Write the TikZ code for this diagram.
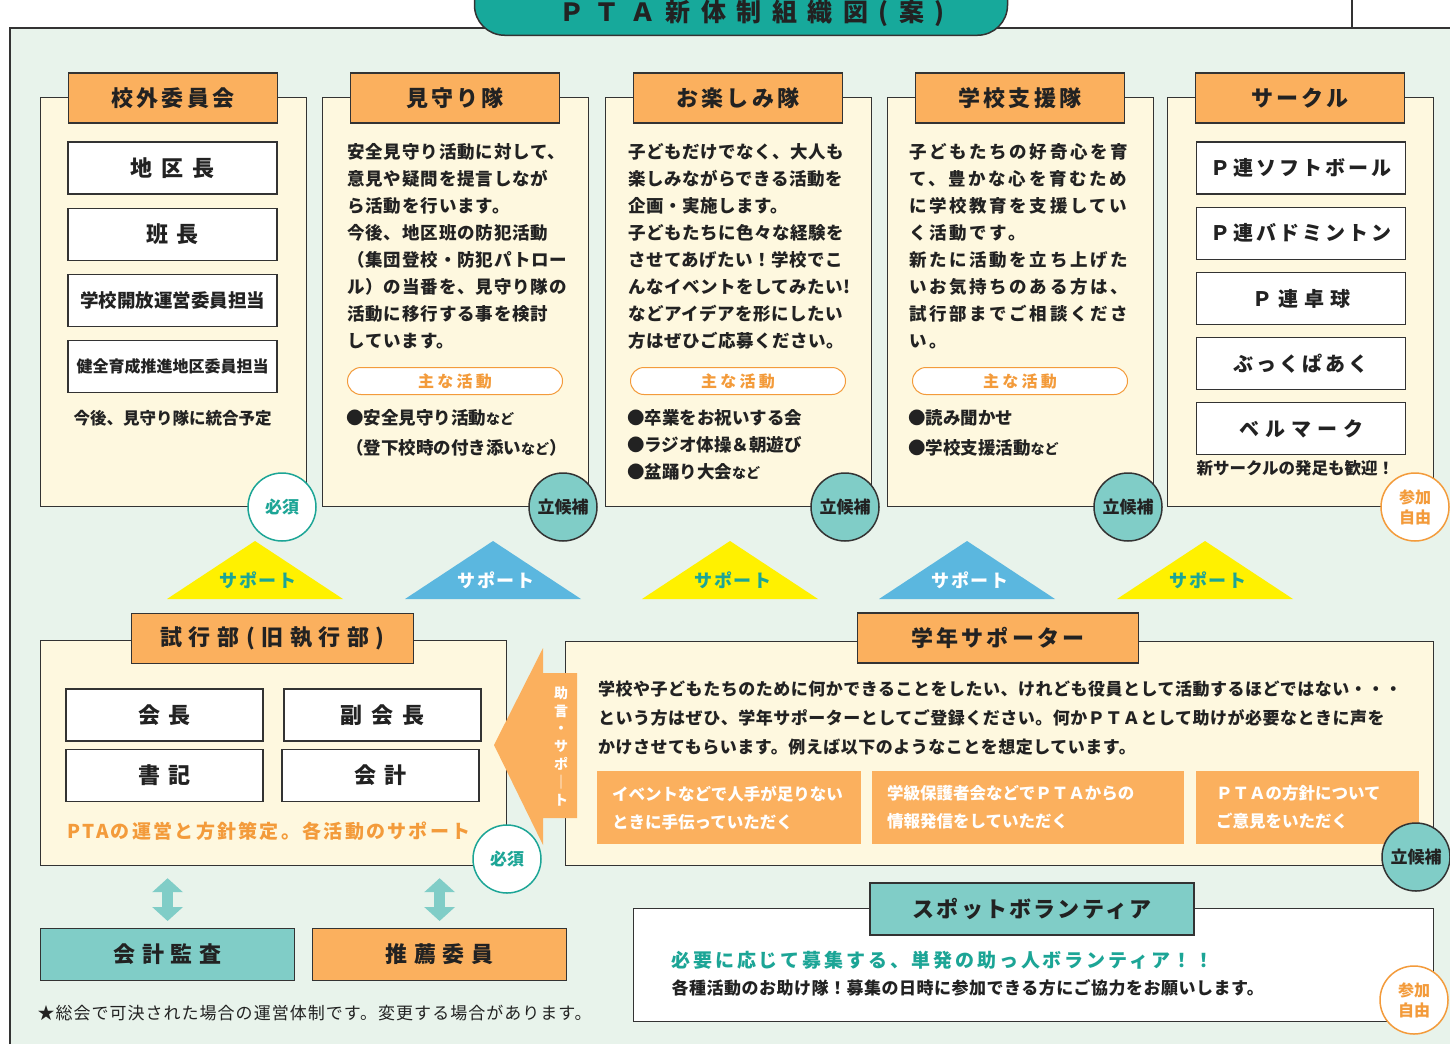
\documentclass[tikz,border=0pt]{standalone}
\usepackage{fontspec}
\setmainfont{Noto Sans CJK JP}
\usetikzlibrary{arrows.meta, positioning}

\definecolor{bggreen}{HTML}{E8F3EB}
\definecolor{cream}{HTML}{FEF8DF}
\definecolor{orng}{HTML}{FBB05E}
\definecolor{orngtxt}{HTML}{F39B3B}
\definecolor{tealdark}{HTML}{17A99B}
\definecolor{teallight}{HTML}{80CDC7}
\definecolor{tealtxt}{HTML}{1CA596}
\definecolor{suppyellow}{HTML}{FFF100}
\definecolor{suppblue}{HTML}{5BB7DF}
\definecolor{linec}{HTML}{333333}
\definecolor{textc}{HTML}{222222}

\newcommand{\fsz}[2]{\fontsize{#1}{#2}\selectfont}
\newcommand{\ls}[1]{\addfontfeature{LetterSpace=#1}}

\tikzset{%
	panel/.style={draw=linec, fill=cream, line width=1.2pt, anchor=north west,%
		minimum width=266pt, minimum height=409pt, inner sep=0pt},
	head/.style={draw=linec, fill=orng, line width=1.2pt, minimum width=209pt,%
		minimum height=50pt, inner sep=0pt, font=\bfseries\fsz{22}{26}\ls{15}},
	role/.style={draw=linec, fill=white, line width=1.2pt, minimum width=209pt,%
		minimum height=52pt, inner sep=0pt},
	body/.style={anchor=north west, inner sep=0pt, align=left, font=\bfseries\fsz{17.5}{27}\ls{5}},
	pill/.style={draw=orngtxt, fill=white, line width=1pt, rounded corners=13.5pt,%
		minimum width=215pt, minimum height=27pt, inner sep=0pt, text=orngtxt,%
		font=\bfseries\fsz{16}{18}\ls{20}},
	must/.style={circle, draw=tealtxt, fill=white, line width=1.5pt, minimum size=68pt,%
		inner sep=0pt, text=tealtxt, font=\bfseries\fsz{17}{19}},
	cand/.style={circle, draw=linec, fill=teallight, line width=1.5pt, minimum size=68pt,%
		inner sep=0pt, font=\bfseries\fsz{17}{19}},
	free/.style={circle, draw=orngtxt, fill=white, line width=1.5pt, minimum size=68pt,%
		inner sep=0pt, text=orngtxt, align=center, font=\bfseries\fsz{16}{20}},
	supp/.style={font=\bfseries\fsz{18}{20}\ls{10}},
	ask/.style={fill=orng, anchor=north west, minimum height=73pt, inner xsep=15pt,%
		align=left, text=white, font=\bfseries\fsz{16.5}{28}},
	dbl/.style={{Triangle[width=30pt,length=14pt]}-{Triangle[width=30pt,length=14pt]},%
		line width=11pt, draw=teallight}
}

\begin{document}
\begin{tikzpicture}[x=1pt, y=-1pt, every node/.append style={text=textc}]
	\useasboundingbox (0,0) rectangle (1450,1044);
	\fill[bggreen] (10,28) rectangle (1450,1044);
	\draw[linec, line width=2.5pt] (10,1044) -- (10,28) -- (1450,28);
	\draw[linec, line width=1.5pt] (1352,0) -- (1352,28);

	% title
	\node[draw=linec, fill=tealdark, line width=1.5pt, rounded corners=30pt, minimum width=533pt,
		minimum height=70pt, anchor=south] (title) at (741,36) {};
	\node[font=\bfseries\fsz{25}{27}\ls{42}] (title-t) at (752,13) {ＰＴＡ新体制組織図(案)};

	% five groups
	\foreach \x/\name/\title in {40/gai/校外委員会, 322/mimamori/見守り隊, 605/otano/お楽しみ隊,
		887/shien/学校支援隊, 1167/club/サークル} {
		\node[panel] (\name) at (\x,97) {};
		\node[head] (\name-h) at (\x+133,98) {\title};
	}

	\node[role, font=\bfseries\fsz{22}{24}\ls{40}] (chiku) at (172.5,168) {地区長};
	\node[role, font=\bfseries\fsz{22}{24}\ls{40}, below=13pt of chiku] (han) {班長};
	\node[role, font=\bfseries\fsz{18.5}{20}, below=13pt of han] (kaiho) {学校開放運営委員担当};
	\node[role, font=\bfseries\fsz{16}{18}, below=13pt of kaiho] (kenzen) {健全育成推進地区委員担当};
	\node[font=\bfseries\fsz{16.5}{18}, below=14pt of kenzen] (gai-note) {今後、見守り隊に統合予定};

	\node[body] (mimamori-t) at (347,143) {安全見守り活動に対して、\\意見や疑問を提言しなが\\ら活動を行います。\\
		今後、地区班の防犯活動\\（集団登校・防犯パトロー\\ル）の当番を、見守り隊の\\活動に移行する事を検討\\しています。};
	\node[pill] (mimamori-p) at (455,381) {主な活動};
	\node[body, font=\bfseries\fsz{17.5}{30}] (mimamori-b) at (346,409)
		{●安全見守り活動{\fsz{14}{30}など}\\（登下校時の付き添い{\fsz{14}{30}など}）};

	\node[body, font=\bfseries\fsz{17.5}{27}\ls{3}] (otano-t) at (628,143) {子どもだけでなく、大人も\\楽しみながらできる活動を\\企画・実施します。\\
		子どもたちに色々な経験を\\させてあげたい！学校でこ\\んなイベントをしてみたい!\\などアイデアを形にしたい\\方はぜひご応募ください。};
	\node[pill] (otano-p) at (738,381) {主な活動};
	\node[body, font=\bfseries\fsz{17.5}{27}] (otano-b) at (627,409)
		{●卒業をお祝いする会\\●ラジオ体操＆朝遊び\\●盆踊り大会{\fsz{14}{27}など}};

	\node[body, font=\bfseries\fsz{17.5}{27}\ls{15}] (shien-t) at (909,143) {子どもたちの好奇心を育\\て、豊かな心を育むため\\に学校教育を支援してい\\
		く活動です。\\新たに活動を立ち上げた\\いお気持ちのある方は、\\試行部までご相談くださ\\い。};
	\node[pill] (shien-p) at (1020,381) {主な活動};
	\node[body, font=\bfseries\fsz{17.5}{30}] (shien-b) at (908,409)
		{●読み聞かせ\\●学校支援活動{\fsz{14}{30}など}};

	\node[role, font=\bfseries\fsz{20}{22}\ls{15}] (soft) at (1301,168) {Ｐ連ソフトボール};
	\node[role, font=\bfseries\fsz{20}{22}\ls{15}, below=12pt of soft] (bad) {Ｐ連バドミントン};
	\node[role, font=\bfseries\fsz{20}{22}\ls{30}, below=12pt of bad] (takkyu) {Ｐ連卓球};
	\node[role, font=\bfseries\fsz{20}{22}\ls{15}, below=12pt of takkyu] (book) {ぶっくぱあく};
	\node[role, font=\bfseries\fsz{20}{22}\ls{30}, below=12pt of book] (bell) {ベルマーク};
	\node[font=\bfseries\fsz{16.5}{18}, anchor=west] (club-note) at (1193,468) {新サークルの発足も歓迎！};

	\node[must] (gai-must) at (282,507) {必須};
	\node[cand] (mimamori-c) at (563,507) {立候補};
	\node[cand] (otano-c) at (845,507) {立候補};
	\node[cand] (shien-c) at (1128,507) {立候補};
	\node[free] (club-free) at (1415,507) {参加\\自由};

	% support triangles
	\foreach \cx/\col/\tc [count=\i] in {255/suppyellow/tealtxt, 493/suppblue/white,
		730/suppyellow/tealtxt, 967/suppblue/white, 1205/suppyellow/tealtxt} {
		\fill[\col] (\cx-88,599) -- (\cx,541) -- (\cx+88,599) -- cycle;
		\node[supp, text=\tc] (supp\i) at (\cx+3,580) {サポート};
	}

	% executive
	\node[panel, minimum width=466pt, minimum height=225pt] (shiko) at (40,640) {};
	\node[head, minimum width=282pt, font=\bfseries\fsz{22}{26}\ls{30}] (shiko-h) at (272.5,638.5) {試行部(旧執行部)};
	\node[role, minimum width=197pt, font=\bfseries\fsz{22}{24}\ls{40}] (kaicho) at (164.5,715) {会長};
	\node[role, minimum width=197pt, font=\bfseries\fsz{22}{24}\ls{40}] (fuku) at (382.5,715) {副会長};
	\node[role, minimum width=197pt, font=\bfseries\fsz{22}{24}\ls{40}] (shoki) at (164.5,775.5) {書記};
	\node[role, minimum width=197pt, font=\bfseries\fsz{22}{24}\ls{40}] (kaikei) at (380.5,775.5) {会計};
	\node[anchor=west, text=orngtxt, font=\bfseries\fsz{19}{21}\ls{12}] (shiko-note) at (64,831)
		{PTAの運営と方針策定。各活動のサポート};

	% grade supporters
	\node[panel, minimum width=868pt, minimum height=224pt] (gakunen) at (565,641) {};
	\node[head, minimum width=281pt] (gakunen-h) at (998,638) {学年サポーター};
	\node[body, font=\bfseries\fsz{17}{29}\ls{3}] (gakunen-t) at (598,680.5)
		{学校や子どもたちのために何かできることをしたい、けれども役員として活動するほどではない・・・\\
		という方はぜひ、学年サポーターとしてご登録ください。何かＰＴＡとして助けが必要なときに声を\\
		かけさせてもらいます。例えば以下のようなことを想定しています。};
	\node[ask, minimum width=264pt, text width=234pt] (ask1) at (597,771)
		{イベントなどで人手が足りない\\ときに手伝っていただく};
	\node[ask, minimum width=312pt, text width=282pt] (ask2) at (872,771)
		{学級保護者会などでＰＴＡからの\\情報発信をしていただく};
	\node[ask, minimum width=213pt, text width=183pt, inner xsep=20pt] (ask3) at (1196,771)
		{ＰＴＡの方針について\\ご意見をいただく};
	\node[cand] (gakunen-c) at (1416,857) {立候補};

	% advice arrow
	\fill[orng] (494,745) -- (543,648) -- (543,673) -- (577,673) -- (577,818)
		-- (543,818) -- (543,845) -- cycle;
	\node[text=white, align=center, font=\bfseries\fsz{14}{17.8}] (advice) at (561,746)
		{助\\言\\・\\サ\\ポ\\｜\\ト};
	\node[must] (shiko-must) at (507,859) {必須};

	% audit and nomination
	\node[anchor=north west, fill=teallight, draw=linec, line width=1.2pt, minimum width=254pt,
		minimum height=52pt, font=\bfseries\fsz{22}{24}\ls{30}] (kansa) at (40,928) {会計監査};
	\node[anchor=north west, fill=orng, draw=linec, line width=1.2pt, minimum width=254pt,
		minimum height=52pt, font=\bfseries\fsz{22}{24}\ls{30}] (suisen) at (312,928) {推薦委員};
	\draw[dbl] ([yshift=-12pt]kansa.north |- shiko.south) -- ([yshift=7pt]kansa.north);
	\draw[dbl] ([yshift=-12pt]suisen.north |- shiko.south) -- ([yshift=7pt]suisen.north);

	\node[anchor=west, font=\fsz{17}{19}\ls{6}] (footnote) at (34,1013)
		{★総会で可決された場合の運営体制です。変更する場合があります。};

	% spot volunteer
	\node[anchor=north west, draw=linec, fill=white, line width=1.2pt, minimum width=800pt,
		minimum height=113pt] (spot) at (633,908) {};
	\node[draw=linec, fill=teallight, line width=1.2pt, minimum width=324pt, minimum height=52pt,
		font=\bfseries\fsz{22}{24}\ls{10}] (spot-h) at (1032,909) {スポットボランティア};
	\node[anchor=west, text=tealtxt, font=\bfseries\fsz{19}{21}\ls{15}] (spot-t1) at (668,960)
		{必要に応じて募集する、単発の助っ人ボランティア！！};
	\node[anchor=west, font=\bfseries\fsz{17}{19}\ls{3}] (spot-t2) at (668,988)
		{各種活動のお助け隊！募集の日時に参加できる方にご協力をお願いします。};
	\node[free] (spot-free) at (1414,1000) {参加\\自由};
\end{tikzpicture}
\end{document}
